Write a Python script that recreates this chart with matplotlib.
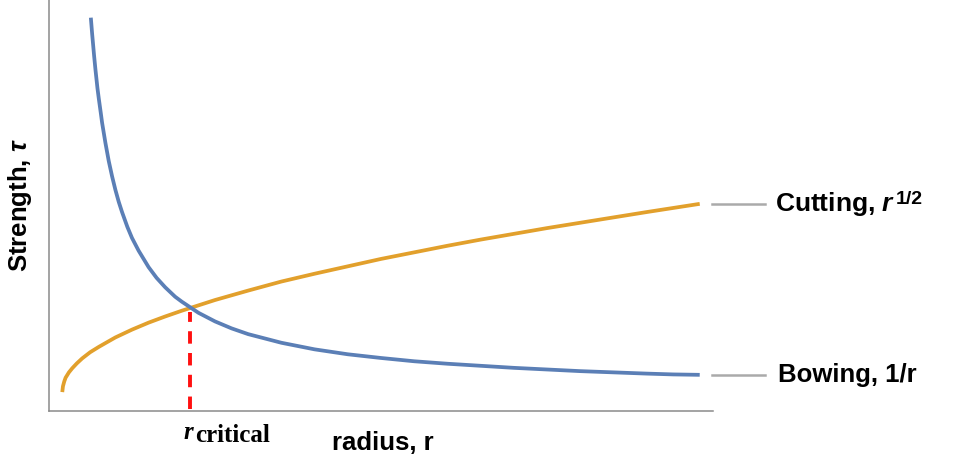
import matplotlib
matplotlib.use("Agg")
import matplotlib.pyplot as plt

plt.rcParams['mathtext.fontset'] = 'custom'
plt.rcParams['mathtext.rm'] = 'Liberation Sans:bold'
plt.rcParams['mathtext.bf'] = 'Liberation Sans:bold'
plt.rcParams['mathtext.it'] = 'Liberation Sans:italic:bold'

# Cutting curve (strength grows with radius)
cut_r = [0.20, 0.21, 0.23, 0.25, 0.30, 0.35, 0.42, 0.50, 0.62, 0.75, 0.88, 1.0, 1.25,
         1.5, 1.75, 2.0, 2.5, 3.0, 3.5, 4.0, 4.5, 5.0, 5.5, 6.0, 6.5, 7.0, 7.5, 8.0,
         8.5, 9.0, 9.4, 9.8]
cut_s = [0.46, 0.60, 0.72, 0.81, 0.94, 1.04, 1.16, 1.28, 1.43, 1.56, 1.68, 1.79, 1.98,
         2.15, 2.30, 2.44, 2.70, 2.93, 3.15, 3.34, 3.52, 3.70, 3.86, 4.02, 4.17, 4.31,
         4.45, 4.58, 4.71, 4.84, 4.94, 5.04]

# Bowing curve (strength falls with radius)
bow_r = [0.63, 0.65, 0.68, 0.70, 0.73, 0.75, 0.78, 0.80, 0.85, 0.90, 0.95, 1.0, 1.05,
         1.1, 1.18, 1.25, 1.35, 1.5, 1.62, 1.75, 1.9, 2.0, 2.25, 2.5, 2.75, 3.0, 3.5,
         4.0, 4.5, 5.0, 5.5, 6.0, 6.5, 7.0, 7.5, 8.0, 8.5, 9.0, 9.4, 9.8]
bow_s = [9.57, 9.17, 8.63, 8.30, 7.85, 7.60, 7.25, 7.01, 6.52, 6.08, 5.71, 5.38, 5.09,
         4.84, 4.48, 4.21, 3.90, 3.50, 3.24, 3.01, 2.78, 2.66, 2.39, 2.18, 2.01, 1.87,
         1.66, 1.50, 1.38, 1.29, 1.21, 1.15, 1.10, 1.05, 1.01, 0.97, 0.94, 0.91, 0.89,
         0.88]

r_crit = 2.12
s_crit = 2.50

W, H = 960, 465
fig = plt.figure(figsize=(9.6, 4.65), dpi=100)
ax = fig.add_axes([49/W, 1 - 411/H, 664/W, 411/H])
ax.set_xlim(0, 10)
ax.set_ylim(0, 10)

ax.plot(cut_r, cut_s, color='#e2a02c', lw=2.7, solid_capstyle='butt', zorder=3)
ax.plot(bow_r, bow_s, color='#5b7fb6', lw=2.7, solid_capstyle='butt', zorder=3)
ax.plot([r_crit, r_crit], [0.05, s_crit - 0.08], color='#ff1010', lw=2.8,
        dashes=(3.2, 2.4), zorder=2)

for sp in ['top', 'right']:
    ax.spines[sp].set_visible(False)
for sp in ['left', 'bottom']:
    ax.spines[sp].set_color('#8a8a8a')
    ax.spines[sp].set_linewidth(1.1)
ax.set_xticks([])
ax.set_yticks([])

# Right-side labels with gray leader lines
def px2r(px):
    return (px - 49) / 66.4

for yv in (cut_s[-1], bow_s[-1]):
    ax.plot([px2r(712), px2r(765)], [yv, yv], color='#aaaaaa', lw=1.8, clip_on=False)

ax.text(px2r(775), cut_s[-1], 'Cutting, $\\mathit{r}$',
        fontsize=19, fontweight='bold', family='Liberation Sans',
        va='center', ha='left', clip_on=False)
fig.text(896/W, 1 - 204/H, '1/2', fontsize=14, fontweight='bold',
         family='Liberation Sans', ha='left', va='baseline')
ax.text(px2r(778), bow_s[-1], 'Bowing, 1/r',
        fontsize=18.5, fontweight='bold', family='Liberation Sans',
        va='center', ha='left', clip_on=False)

# Axis labels
fig.text(20/W, 1 - 205/H, 'Strength, $\\mathit{\\tau}$', rotation=90,
         fontsize=18.5, fontweight='bold', family='Liberation Sans',
         ha='center', va='center')
fig.text(383/W, 1 - 443/H, 'radius, r', fontsize=18.5, fontweight='bold',
         family='Liberation Sans', ha='center', va='center')

# r_critical label
fig.text(183/W, 1 - 439/H, 'r', fontsize=18, style='italic', fontweight='bold',
         family='Liberation Serif', ha='left', va='baseline')
fig.text(195/W, 1 - 442/H, 'critical', fontsize=18, fontweight='bold',
         family='Liberation Serif', ha='left', va='baseline')

fig.savefig('out.png', dpi=100)
